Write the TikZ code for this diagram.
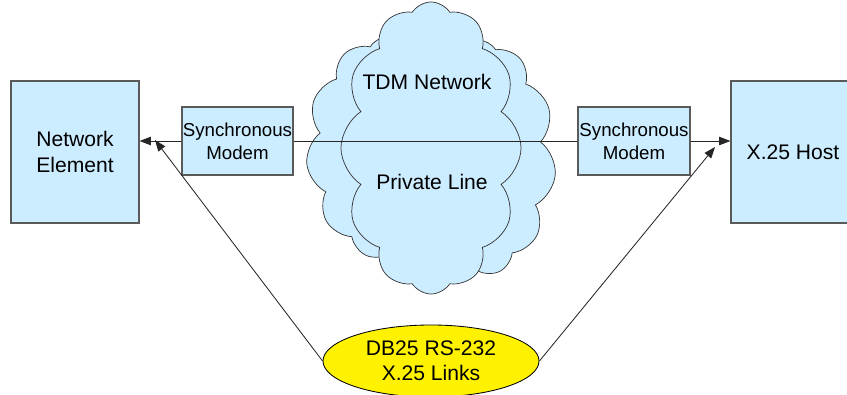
\documentclass[tikz,border=0pt]{standalone}
\usepackage{fontspec}
\setmainfont{Liberation Sans}
\usetikzlibrary{arrows.meta,shapes.symbols,shapes.geometric}

\definecolor{boxblue}{RGB}{204,236,255}
\definecolor{edgegray}{RGB}{90,90,90}

\tikzset{
	box/.style={rectangle, draw=edgegray, fill=boxblue, line width=0.8pt, align=center, inner sep=0pt, font=\fontsize{15}{19}\selectfont},
	modem/.style={box, minimum height=1.7cm, font=\fontsize{13.3}{16.6}\selectfont},
	puff/.style={cloud, cloud puffs=11, cloud puff arc=115, draw=black!80, fill=boxblue, line width=0.5pt, inner sep=0pt},
	arr/.style={-{Triangle[length=8pt, width=6pt]}, line width=0.6pt, black!85},
}

\begin{document}
\begin{tikzpicture}[x=0.025cm, y=-0.025cm]
	
	\useasboundingbox (0, 0) rectangle (847, 394);
	
	% the network cloud, three layers
	\node (cl1) [puff, minimum width=4.2cm, minimum height=5.6cm] at (390, 148) {};
	\node (cl2) [puff, minimum width=3.9cm, minimum height=5.9cm] at (478, 158) {};
	\node (cl3) [puff, cloud puffs=12, minimum width=4.5cm, minimum height=7.3cm] at (431, 148) {};
	
	\node (tdm) at (427, 82) {\fontsize{15}{19}\selectfont TDM Network};
	\node (pl) at (432, 182) {\fontsize{15}{19}\selectfont Private Line};
	
	\node (ne) [box, minimum width=3.2cm, minimum height=3.55cm] at (75, 152) {Network\\Element};
	\node (host) [box, minimum width=3.1cm, minimum height=3.55cm] at (793, 152) {X.25 Host};
	
	\node (lm) [modem, minimum width=2.775cm] at (237.5, 141) {Synchronous\\Modem};
	\node (rm) [modem, minimum width=2.8cm] at (634, 141) {Synchronous\\Modem};
	
	\node (db) [ellipse, draw=black, fill=yellow, line width=0.6pt, minimum width=5.4cm, minimum height=1.8cm, inner sep=0pt, align=center, font=\fontsize{15}{18}\selectfont] at (431, 361) {DB25 RS-232\\X.25 Links};
	
	\coordinate (tipl) at (155, 140);
	\coordinate (tipr) at (715, 147);
	
	\draw [line width=0.6pt, black!85] (lm.east) -- (rm.west);
	\draw [arr] (lm.west) -- (lm.west -| ne.east);
	\draw [arr] (rm.east) -- (rm.east -| host.west);
	
	\draw [arr] (db.west) -- (tipl);
	\draw [arr] (db.east) -- (tipr);

\end{tikzpicture}
\end{document}
